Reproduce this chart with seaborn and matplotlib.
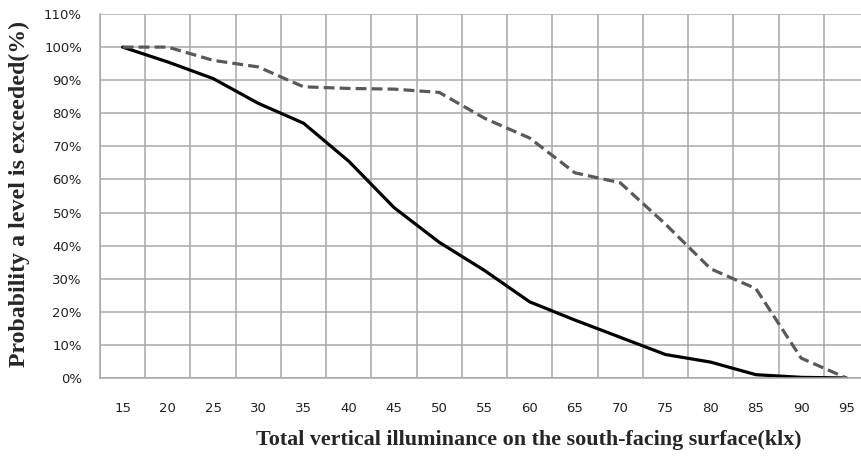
import matplotlib
matplotlib.use("Agg")
import matplotlib.pyplot as plt
import seaborn as sns
import pandas as pd
from matplotlib.ticker import FixedLocator, PercentFormatter

# ---- data ----
illuminance = ["15", "20", "25", "30", "35", "40", "45", "50", "55",
               "60", "65", "70", "75", "80", "85", "90", "95"]
solid_series = [100, 95.5, 90.5, 83, 77, 65.5, 51.5, 41, 32.5,
                23, 17.5, 12.3, 7.1, 4.8, 1.0, 0.2, 0]
dashed_series = [100, 100, 96, 94, 88, 87.5, 87.3, 86.3, 78.5,
                 72.5, 62, 59, 46.5, 33, 27, 6, 0]
y_ticks = list(range(0, 111, 10))

df = pd.DataFrame({
    "klx": illuminance * 2,
    "prob": solid_series + dashed_series,
    "series": ["solid"] * len(illuminance) + ["dashed"] * len(illuminance),
})

sns.set_style("white")
plt.rcParams["font.family"] = ["DejaVu Sans"]

fig = plt.figure(figsize=(8.61, 4.59), dpi=100)
ax = fig.add_axes([100 / 861, 1 - 378 / 459, 769 / 861, 364 / 459])

sns.lineplot(data=df, x="klx", y="prob", hue="series", style="series",
             palette={"solid": "#000000", "dashed": "#595959"},
             dashes={"solid": "", "dashed": (3.4, 1.6)},
             linewidth=2.3, ax=ax, legend=False, sort=False)

n = len(illuminance)
ax.set_xlim(-0.5, n - 0.5)
ax.set_ylim(0, 110)

grid_c = "#A8A8A8"
ax.set_xticks(range(n))
ax.set_xticklabels(illuminance)
ax.xaxis.set_minor_locator(FixedLocator([i - 0.5 for i in range(n + 1)]))
ax.tick_params(axis="x", which="major", length=0, pad=17, labelsize=9.5, colors="#222222")
ax.tick_params(axis="x", which="minor", length=4, width=1.1, color=grid_c, direction="out")
ax.grid(True, axis="x", which="minor", color=grid_c, linewidth=1.1)
ax.grid(False, axis="x", which="major")

ax.set_yticks(y_ticks)
ax.yaxis.set_major_formatter(PercentFormatter(decimals=0))
ax.tick_params(axis="y", which="major", length=4, width=1.1, color=grid_c,
               direction="out", pad=9, labelsize=9.5, labelcolor="#222222")
ax.grid(True, axis="y", which="major", color=grid_c, linewidth=1.1)
ax.set_axisbelow(True)

for s in ["top", "right"]:
    ax.spines[s].set_visible(False)
for s in ["left", "bottom"]:
    ax.spines[s].set_color(grid_c)
    ax.spines[s].set_linewidth(1.1)

ax.set_xlabel("")
ax.set_ylabel("")
fig.text(529 / 861, 1 - 440 / 459, "Total vertical illuminance on the south-facing surface(klx)",
         ha="center", va="center", fontsize=15.8, fontweight="bold",
         family=["Liberation Serif"])
fig.text(19 / 861, 1 - 194 / 459, "Probability a level is exceeded(%)",
         ha="center", va="center", rotation=90, fontsize=17.2, fontweight="bold",
         family=["Liberation Serif"])

fig.savefig("out.png", dpi=100)
